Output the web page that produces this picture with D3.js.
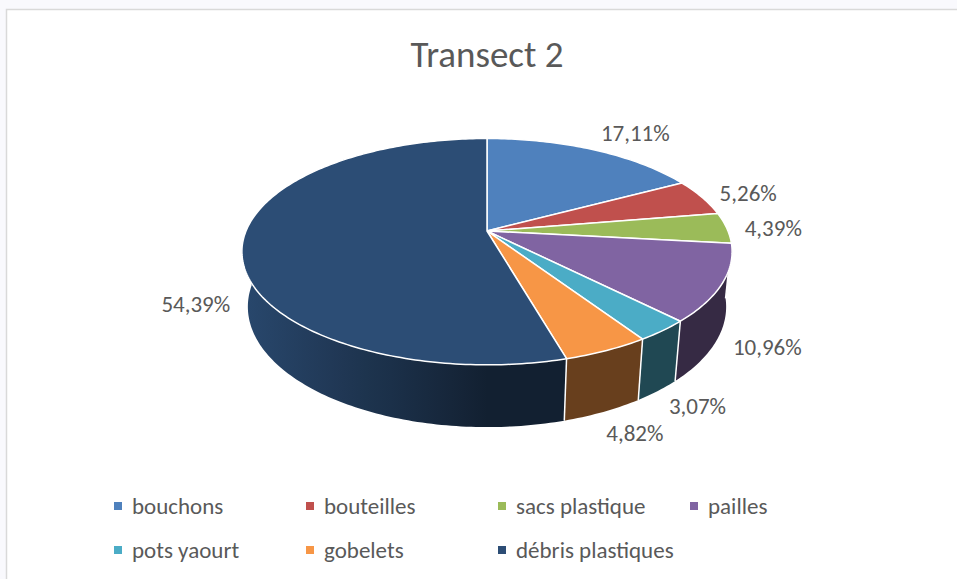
<!DOCTYPE html>
<html>
<head>
<meta charset="utf-8">
<script src="https://cdn.jsdelivr.net/npm/d3@7/dist/d3.min.js"></script>
<style>
  body { margin: 0; background: #f9f9fd; }
  svg { display: block; }
  text { font-family: Carlito, Lato, "Liberation Sans", sans-serif; fill: #595959; }
</style>
</head>
<body>
<div id="chart"></div>
<script>
// data (counts, labels shown as % of total)
const categories = ["bouchons", "bouteilles", "sacs plastique", "pailles", "pots yaourt", "gobelets", "débris plastiques"];
const counts = [39, 12, 10, 25, 7, 11, 124];
const palette = ["#4F81BD", "#C0504D", "#9BBB59", "#8064A2", "#4BACC6", "#F79646", "#2C4D75"];
const title = "Transect 2";

const W = 957, H = 579;

const svg = d3.select("#chart")
  .append("svg")
    .attr("width", W)
    .attr("height", H);

const defs = svg.append("defs");

// chart area with its thin grey border
svg.append("rect")
  .attr("x", 6.5).attr("y", 9.5)
  .attr("width", W).attr("height", H)
  .attr("fill", "#fff")
  .attr("stroke", "#d9d9d9")
  .attr("stroke-width", 1.5);

svg.append("text")
  .attr("x", 487)
  .attr("y", 67)
  .attr("text-anchor", "middle")
  .style("font-size", "37px")
  .style("font-weight", 300)
  .text(title);

const color = d3.scaleOrdinal().domain(categories).range(palette);
const total = d3.sum(counts);
const fmt = v => (v / total * 100).toFixed(2).replace(".", ",") + "%";

// 3d view: tilted disc seen with perspective
const cx = 487, cy = 231;
const phi = 27 * Math.PI / 180;
const dist = 4.88, focal = 1176, depth = 0.259;

function project(theta, r, level) {
  // level 0 = top face, 1 = bottom of the side wall
  const X = r * Math.sin(theta), Z = -r * Math.cos(theta);
  const Y = -depth * level;
  const ys = Z * Math.sin(phi) - Y * Math.cos(phi);
  const d = dist - Z * Math.cos(phi) - Y * Math.sin(phi);
  return [cx + focal * X / d, cy + focal * ys / d];
}

const arcs = d3.pie().sort(null).value(d => d.value)(
  categories.map((c, i) => ({ name: c, value: counts[i] }))
);

function shade(hex, k) {
  const c = d3.rgb(hex);
  return d3.rgb(c.r * k, c.g * k, c.b * k).formatHex();
}

const line = d3.line();
const step = Math.PI / 180;
const halfW = focal / dist;

// visible side wall (front half), one path per slice with a light-from-left gradient
const wallG = svg.append("g");
arcs.forEach((a, i) => {
  const t0 = Math.max(a.startAngle, Math.PI / 2);
  const t1 = Math.min(a.endAngle, 3 * Math.PI / 2);
  if (t1 <= t0) return;
  const grad = defs.append("linearGradient")
    .attr("id", "wall" + i)
    .attr("gradientUnits", "userSpaceOnUse")
    .attr("x1", cx - halfW).attr("x2", cx + halfW)
    .attr("y1", 0).attr("y2", 0);
  d3.range(0, 1.0001, 0.05).forEach(s => {
    const X = s * 2 - 1;
    grad.append("stop")
      .attr("offset", s)
      .attr("stop-color", shade(color(a.data.name), 0.42 + 0.5 * Math.max(0, -X)));
  });
  const n = Math.max(2, Math.ceil((t1 - t0) / step));
  const topPts = d3.range(n + 1).map(j => project(t0 + (t1 - t0) * j / n, 1, 0));
  const botPts = d3.range(n + 1).map(j => project(t0 + (t1 - t0) * j / n, 1, 1)).reverse();
  wallG.append("path")
    .attr("d", line(topPts.concat(botPts)) + "Z")
    .attr("fill", `url(#wall${i})`);
});

// white seams between slices on the visible wall
arcs.forEach(a => {
  const t = a.startAngle;
  if (-Math.cos(t) > 0) {
    wallG.append("path")
      .attr("d", line([project(t, 1, 0), project(t, 1, 1)]))
      .attr("stroke", "#fff")
      .attr("stroke-width", 1.5);
  }
});

// top faces
const faceG = svg.append("g");
arcs.forEach(a => {
  const pts = [project(0, 0, 0)];
  const n = Math.max(2, Math.ceil((a.endAngle - a.startAngle) / step));
  for (let j = 0; j <= n; j++) {
    pts.push(project(a.startAngle + (a.endAngle - a.startAngle) * j / n, 1, 0));
  }
  faceG.append("path")
    .attr("d", line(pts) + "Z")
    .attr("fill", color(a.data.name))
    .attr("stroke", "#fff")
    .attr("stroke-width", 1.5)
    .attr("stroke-linejoin", "round");
});

// data labels, outside end
const labelG = svg.append("g");
arcs.forEach(a => {
  const tm = (a.startAngle + a.endAngle) / 2;
  const level = -Math.cos(tm) < 0 ? 0 : 1;
  const p = project(tm, 1, level);
  const c = project(0, 0, level);
  let ux = p[0] - c[0], uy = p[1] - c[1];
  const len = Math.hypot(ux, uy);
  ux /= len; uy /= len;
  const t = labelG.append("text")
    .style("font-size", "23px")
    .attr("text-anchor", "middle")
    .attr("dominant-baseline", "central")
    .text(fmt(a.data.value));
  const bb = t.node().getBBox();
  const gap = 18;
  t.attr("x", p[0] + ux * gap + ux * bb.width / 2)
   .attr("y", p[1] + uy * gap + uy * 20 / 2);
});

// legend, two rows of four
const legendG = svg.append("g");
categories.forEach((c, i) => {
  const col = i % 4, row = Math.floor(i / 4);
  const g = legendG.append("g")
    .attr("transform", `translate(${114 + col * 192},${506 + row * 44})`);
  g.append("rect")
    .attr("x", 0).attr("y", -4)
    .attr("width", 8).attr("height", 8)
    .attr("fill", color(c));
  g.append("text")
    .attr("x", 18)
    .attr("dominant-baseline", "central")
    .style("font-size", "23px")
    .text(c);
});
</script>
</body>
</html>
